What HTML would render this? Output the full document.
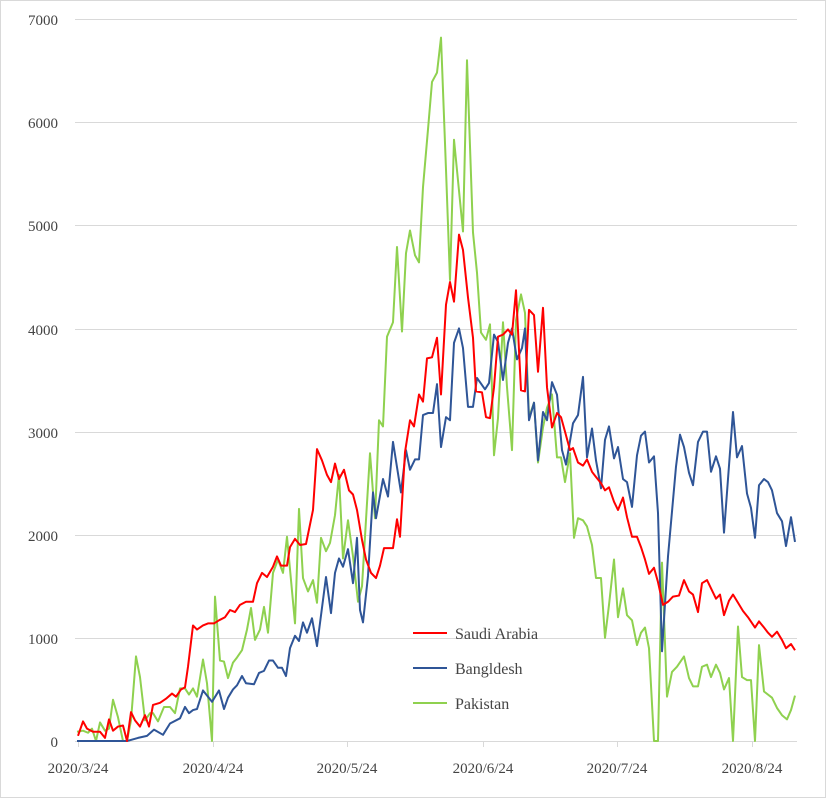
<!DOCTYPE html>
<html><head><meta charset="utf-8"><style>
html,body{margin:0;padding:0;background:#fff}
svg{display:block}
text{font-family:"Liberation Serif",serif;fill:#444}
</style></head><body>
<svg width="826" height="798" viewBox="0 0 826 798" xmlns="http://www.w3.org/2000/svg">
<rect x="0.5" y="0.5" width="825" height="797" fill="#fff" stroke="#d9d9d9"/>
<g stroke="#d9d9d9" stroke-width="1">
<line x1="75" y1="19.5" x2="797" y2="19.5"/>
<line x1="75" y1="122.5" x2="797" y2="122.5"/>
<line x1="75" y1="225.5" x2="797" y2="225.5"/>
<line x1="75" y1="329.5" x2="797" y2="329.5"/>
<line x1="75" y1="432.5" x2="797" y2="432.5"/>
<line x1="75" y1="535.5" x2="797" y2="535.5"/>
<line x1="75" y1="638.5" x2="797" y2="638.5"/>
<line x1="75" y1="741.5" x2="797" y2="741.5"/>
<line x1="78.5" y1="741" x2="78.5" y2="747"/>
<line x1="213.5" y1="741" x2="213.5" y2="747"/>
<line x1="347.5" y1="741" x2="347.5" y2="747"/>
<line x1="483.5" y1="741" x2="483.5" y2="747"/>
<line x1="617.5" y1="741" x2="617.5" y2="747"/>
<line x1="752.5" y1="741" x2="752.5" y2="747"/>
</g>
<g font-size="15" text-anchor="end">
<text x="58" y="25">7000</text>
<text x="58" y="128">6000</text>
<text x="58" y="231">5000</text>
<text x="58" y="335">4000</text>
<text x="58" y="438">3000</text>
<text x="58" y="541">2000</text>
<text x="58" y="644">1000</text>
<text x="58" y="747">0</text>
</g>
<g font-size="15" text-anchor="middle">
<text x="78" y="773">2020/3/24</text>
<text x="213" y="773">2020/4/24</text>
<text x="347" y="773">2020/5/24</text>
<text x="483" y="773">2020/6/24</text>
<text x="617" y="773">2020/7/24</text>
<text x="752" y="773">2020/8/24</text>
</g>
<g transform="translate(0,741) scale(1,-0.10314)" fill="none" stroke-width="2" stroke-linejoin="round">
<polyline vector-effect="non-scaling-stroke" stroke="#8fd14f" points="77,90 83,100 88,80 92,120 96,0 100,180 105,100 109,120 113,400 118,230 123,0 127,0 131,200 136,820 140,620 145,200 150,270 153,270 158,190 164,330 170,330 175,270 180,510 185,510 189,450 193,510 197,430 203,790 207,560 212,0 215,1400 220,780 224,770 228,610 233,760 237,810 242,880 247,1080 251,1290 255,980 260,1080 264,1300 268,1050 273,1630 278,1760 283,1630 287,1980 291,1560 295,1140 299,2250 303,1580 308,1450 313,1560 317,1340 321,1970 326,1840 330,1920 335,2190 339,2580 343,1770 348,2140 353,1790 358,1350 362,1500 370,2790 375,2160 379,3110 383,3050 387,3920 393,4060 397,4790 402,3970 406,4730 410,4950 415,4710 419,4640 423,5370 428,5930 432,6390 437,6480 441,6820 446,5540 450,4470 454,5830 463,4940 467,6600 473,4930 477,4540 481,3960 486,3890 490,4040 494,2770 498,3130 503,4060 507,3430 512,2820 516,4080 521,4330 525,4150 529,3140 534,3280 538,2700 543,3040 547,3230 552,3360 557,2750 561,2750 565,2510 570,2790 574,1970 578,2160 583,2140 587,2080 592,1900 596,1580 601,1580 605,1000 609,1320 614,1760 618,1200 623,1480 627,1220 632,1170 637,930 641,1050 645,1100 649,900 654,0 658,0 662,1730 667,430 672,670 677,720 684,820 689,610 693,530 698,530 702,720 707,740 711,620 716,740 720,660 724,500 729,610 733,0 738,1110 742,620 747,590 751,590 755,0 759,930 764,480 772,420 777,320 782,250 787,210 791,300 795,440"/>
<polyline vector-effect="non-scaling-stroke" stroke="#2f5597" points="77,0 127,0 138,30 147,50 154,110 163,60 170,170 180,220 185,330 189,270 193,300 197,310 203,490 212,380 219,490 224,310 228,420 233,500 237,540 242,630 246,560 254,550 259,660 264,680 269,780 273,780 278,710 282,710 286,630 290,900 295,1020 299,970 303,1150 307,1050 312,1190 317,920 326,1590 331,1240 335,1630 339,1770 343,1690 348,1860 353,1530 357,1970 360,1270 363,1150 368,1600 373,2410 376,2160 383,2540 388,2370 393,2900 401,2410 406,2820 410,2630 415,2730 419,2730 423,3160 428,3180 433,3180 437,3460 441,2850 446,3140 450,3110 454,3860 459,4000 463,3810 468,3240 473,3240 477,3520 485,3410 489,3470 494,3940 498,3870 503,3500 508,3860 512,4000 517,3700 522,3810 525,4000 529,3110 534,3280 538,2720 543,3190 547,3110 552,3480 557,3357 562,2820 566,2680 573,3080 578,3160 583,3530 587,2750 592,3030 596,2720 601,2450 605,2920 609,3050 614,2740 618,2850 623,2540 627,2510 632,2270 637,2770 641,2960 645,3000 649,2700 654,2760 658,2210 662,870 668,1790 676,2660 680,2970 684,2850 689,2600 693,2480 698,2900 703,3000 707,3000 711,2610 716,2760 720,2640 724,2020 733,3190 737,2750 742,2860 747,2400 751,2260 755,1970 759,2480 764,2540 768,2510 772,2430 777,2210 782,2130 786,1890 791,2170 795,1930"/>
<polyline vector-effect="non-scaling-stroke" stroke="#ff0000" points="78,50 83,190 87,120 93,90 100,90 105,30 109,210 113,100 118,140 123,150 127,0 131,280 135,200 140,140 145,250 149,140 153,350 160,370 166,410 172,460 176,430 181,500 185,520 188,720 193,1120 197,1080 203,1120 208,1140 214,1140 219,1170 225,1200 230,1270 235,1250 240,1320 246,1350 253,1350 257,1530 262,1630 267,1590 273,1690 277,1790 281,1700 287,1700 290,1880 295,1960 300,1900 306,1910 313,2240 317,2830 322,2720 327,2580 331,2510 335,2690 339,2540 344,2630 349,2430 353,2390 357,2240 362,1950 366,1760 371,1630 376,1580 380,1700 384,1870 393,1870 397,2150 400,1980 405,2800 410,3110 414,3050 419,3360 423,3290 427,3710 432,3720 437,3910 441,3360 446,4230 450,4450 454,4260 459,4910 463,4760 468,4300 473,3910 476,3390 482,3380 486,3140 490,3130 494,3430 498,3920 503,3940 508,3990 512,3940 516,4370 521,3400 525,3390 529,4180 534,4130 538,3580 543,4200 547,3430 552,3040 557,3180 561,3140 565,3000 570,2820 573,2840 578,2700 583,2670 587,2730 592,2610 596,2560 601,2500 605,2430 609,2460 614,2320 618,2240 623,2360 627,2170 632,1980 637,1980 641,1880 645,1760 649,1620 654,1680 658,1540 663,1320 668,1350 673,1400 679,1410 684,1560 689,1450 693,1420 698,1250 702,1530 707,1560 711,1480 716,1380 720,1420 724,1220 729,1360 733,1420 738,1340 743,1260 748,1200 755,1100 759,1160 764,1100 768,1050 772,1010 777,1060 782,980 786,900 791,940 795,880"/>
</g>
<g stroke-width="2">
<line x1="413" y1="633" x2="447" y2="633" stroke="#ff0000"/>
<line x1="413" y1="668" x2="447" y2="668" stroke="#2f5597"/>
<line x1="413" y1="703" x2="447" y2="703" stroke="#8fd14f"/>
</g>
<g font-size="16">
<text x="455" y="639">Saudi Arabia</text>
<text x="455" y="674">Bangldesh</text>
<text x="455" y="709">Pakistan</text>
</g>
</svg>
</body></html>
